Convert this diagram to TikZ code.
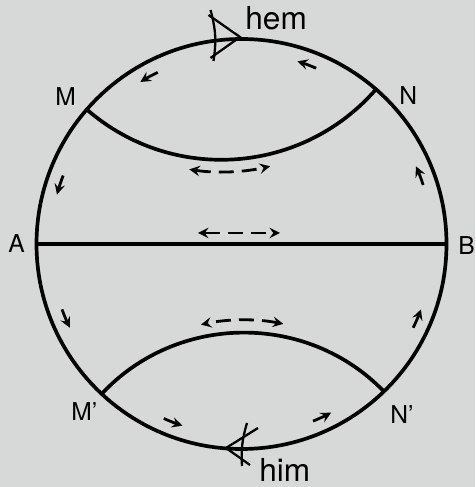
\documentclass[tikz,border=0pt]{standalone}
\usepackage{fontspec}
\setmainfont{TeX Gyre Heros}
\usepackage{tikz}
\usetikzlibrary{arrows,calc}
\definecolor{paper}{RGB}{214,217,216}

\begin{document}
\begin{tikzpicture}[
    boundary/.style={line width=2.1pt},
    geodesic/.style={line width=2.1pt},
    flow/.style={->, >=stealth, line width=1.6pt},
    drift/.style={<->, >=stealth, line width=1.6pt, dash pattern=on 0.3cm off 0.16cm},
    marker/.style={line width=1.3pt},
    point/.style={font=\fontsize{14}{16}\selectfont, anchor=base west, inner sep=0pt},
    word/.style={font=\fontsize{18}{20}\selectfont, anchor=base west, inner sep=0pt}
]

% Background
\fill[paper] (-4.83,-4.86) rectangle (4.67,4.88);
\useasboundingbox (-4.83,-4.86) rectangle (4.67,4.88);

% Points on the circle
\coordinate (A) at (180:4.1);
\coordinate (B) at (0:4.1);
\coordinate (M) at (139:4.1);
\coordinate (N) at (49:4.1);
\coordinate (Mp) at (227:4.1);
\coordinate (Np) at (314:4.1);

% Circle and geodesics
\draw[boundary] (0,0) circle (4.1);
\draw[geodesic] (A) -- (B);
\draw[geodesic] (M) to[bend right=45] (N);
\draw[geodesic] (Mp) to[bend left=46.5] (Np);

% Flow along the circle
\foreach \a in {21,70,119,162,203,249,295,337}
  \draw[flow] ({\a-3}:3.82) arc[start angle=\a-3, end angle=\a+3, radius=3.82];

% Drift arrows
\draw[drift, shift={(-0.404,5.784)}] (261.5:4.34) arc[start angle=261.5, end angle=283, radius=4.34];
\draw[drift] (-0.87,0.22) -- (0.77,0.22);
\draw[drift, shift={(0.049,-5.652)}] (79:4.13) arc[start angle=79, end angle=102, radius=4.13];

% Crossing marks
\draw[marker] (-0.62,4.68) to[bend left=12] (-0.56,3.66);
\draw[marker] (-0.66,4.58) -- (-0.03,4.14) -- (-0.62,3.72);
\draw[marker] (0.11,-3.58) to[bend right=10] (0.01,-4.44);
\draw[marker] (0.33,-3.68) -- (-0.31,-4.08) -- (0.17,-4.42);

% Labels
\node[point] (labA) at (-4.67,-0.18) {A};
\node[point] (labB) at (4.33,-0.22) {B};
\node[point] (labM) at (-3.73,2.76) {M};
\node[point] (labN) at (3.15,2.78) {N};
\node[point] (labMp) at (-3.41,-3.52) {M'};
\node[point] (labNp) at (2.97,-3.58) {N'};
\node[word] (hem) at (0.07,4.28) {hem};
\node[word] (him) at (0.35,-4.74) {him};

\end{tikzpicture}
\end{document}
